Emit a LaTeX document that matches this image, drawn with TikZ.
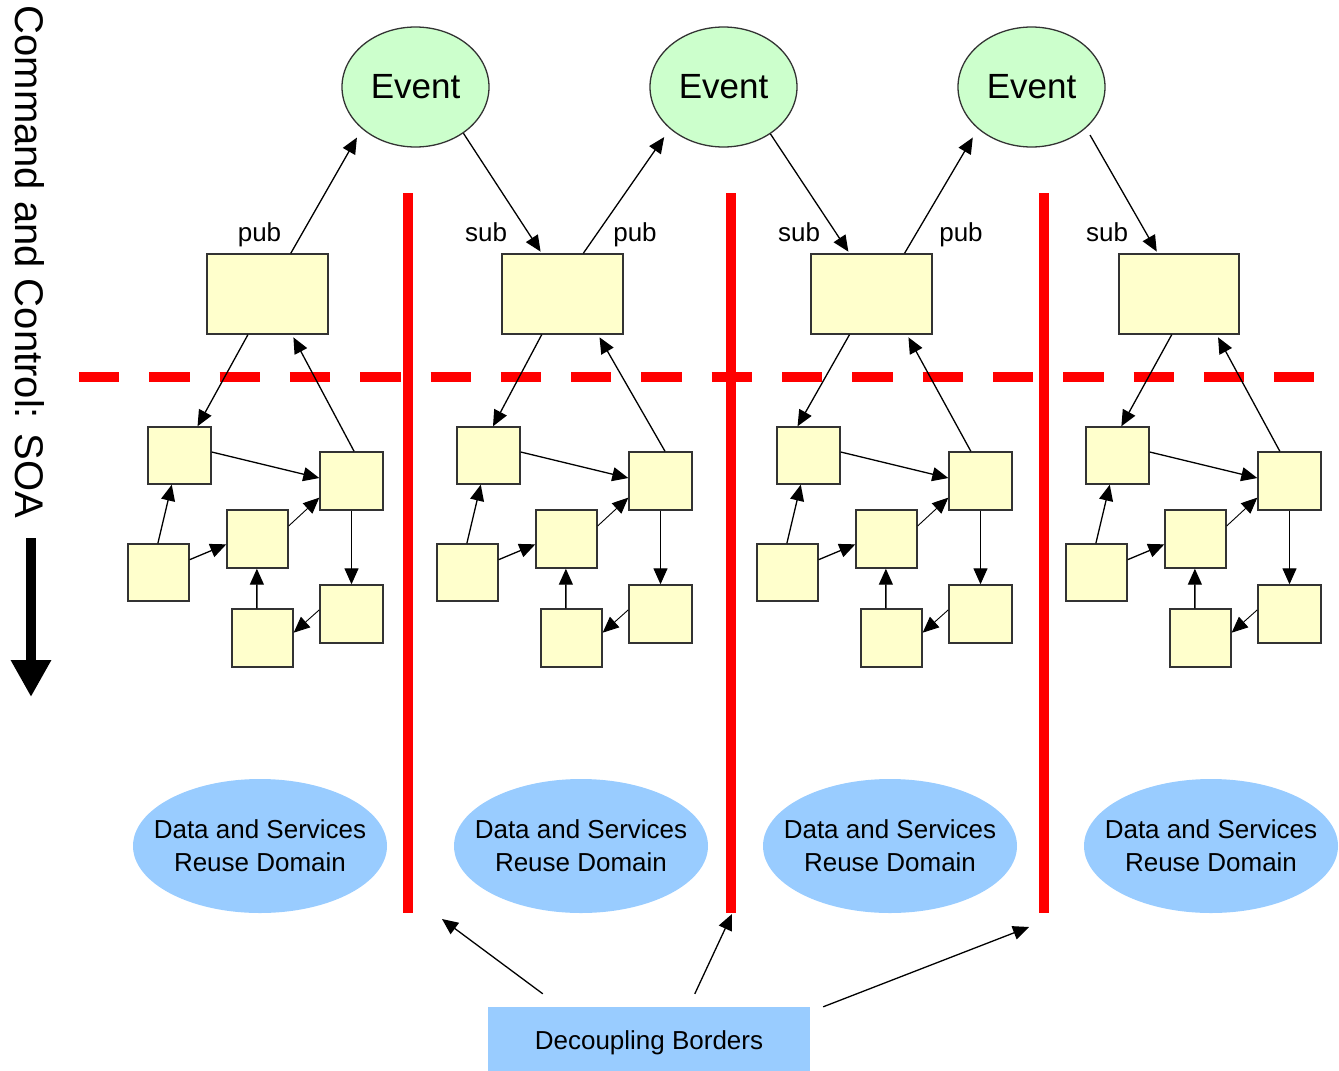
\documentclass[tikz,border=0pt]{standalone}
\usepackage{fontspec}
\setmainfont{Liberation Sans}
\usetikzlibrary{arrows.meta,calc,shapes.geometric}

\definecolor{boxfill}{HTML}{FFFFCC}
\definecolor{eventfill}{HTML}{CCFFCC}
\definecolor{domainfill}{HTML}{99CCFF}
\definecolor{edgegray}{HTML}{333333}

\begin{document}
\begin{tikzpicture}[x=1pt,y=-1pt,
  svc/.style={draw=edgegray,line width=1.4pt,fill=boxfill,inner sep=0pt},
  topbox/.style={svc,minimum width=121pt,minimum height=80pt},
  eventnode/.style={ellipse,draw=edgegray,line width=1.3pt,fill=eventfill,
    minimum width=147pt,minimum height=120pt,inner sep=0pt,
    font=\fontsize{35}{40}\selectfont},
  reusedom/.style={ellipse,fill=domainfill,minimum width=254pt,minimum height=134pt,inner sep=0pt},
  domtext/.style={align=center,inner sep=0pt,font=\fontsize{26}{33}\selectfont},
  conn/.style={-{Triangle[length=16pt,width=14pt]},line width=1.3pt,black},
  thinconn/.style={conn,line width=0.9pt},
  pubsub/.style={anchor=base,inner sep=0pt,font=\fontsize{26}{30}\selectfont},
  redwall/.style={draw=red,line width=10pt},
]
\useasboundingbox (0,0) rectangle (1339,1071);

% vertical caption with its direction arrow
\node[rotate=-90,inner sep=0pt,font=\fontsize{40}{48}\selectfont] (soa) at (30,262) {Command and Control: SOA};
\coordinate (soaTop) at (31,538);
\coordinate (soaTip) at (31,697);
\draw[line width=10pt,-{Triangle[length=37pt,width=38pt]}] (soaTop) -- (soaTip);

% decoupling borders: horizontal dashed line and vertical walls
\draw[redwall,dash pattern=on 40.3pt off 30pt] (79,377) -- (1315,377);
\foreach \x in {408,730.5,1044}
  \draw[redwall] (\x,193) -- (\x,913);

% events
\node[eventnode] (e1) at (415.5,87) {Event};
\node[eventnode] (e2) at (723.5,87) {Event};
\node[eventnode] (e3) at (1031.5,87) {Event};

% published/subscribed service boxes
\node[topbox] (t1) at (267.5,294) {};
\node[topbox] (t2) at (562.5,294) {};
\node[topbox] (t3) at (871.5,294) {};
\node[topbox,minimum width=120pt] (t4) at (1179,294) {};

% service clusters below the dashed line
\foreach \i/\dx/\fs/\fa/\fb/\fu in {1/0/0.34/0.78/0.54/0.70,
                                    2/309/0.33/0.57/0.57/0.79,
                                    3/629/0.32/0.33/0.35/0.79,
                                    4/938/0.44/0.56/0.35/0.81} {
  \node[svc,minimum width=63pt,minimum height=57pt] (a\i) at (179.5+\dx,455.5) {};
  \node[svc,minimum width=63pt,minimum height=58pt] (b\i) at (351.5+\dx,481) {};
  \node[svc,minimum width=61pt,minimum height=58pt] (c\i) at (257.5+\dx,539) {};
  \node[svc,minimum width=61pt,minimum height=57pt] (d\i) at (158.5+\dx,572.5) {};
  \node[svc,minimum width=61pt,minimum height=58pt] (f\i) at (262.5+\dx,638) {};
  \node[svc,minimum width=63pt,minimum height=58pt] (g\i) at (351.5+\dx,614) {};
  \draw[conn] ($(t\i.south west)!\fs!(t\i.south east)$) -- ($(a\i.north west)!\fa!(a\i.north east)$);
  \draw[conn,shorten >=3pt] ($(b\i.north west)!\fb!(b\i.north east)$) -- ($(t\i.south west)!\fu!(t\i.south east)$);
  \draw[conn] ($(a\i.north east)!0.44!(a\i.south east)$) -- ($(b\i.north west)!0.45!(b\i.south west)$);
  \draw[conn] ($(d\i.north west)!0.49!(d\i.north east)$) -- ($(a\i.south west)!0.38!(a\i.south east)$);
  \draw[conn] ($(d\i.north east)!0.28!(d\i.south east)$) -- ($(c\i.north west)!0.59!(c\i.south west)$);
  \draw[thinconn] ($(c\i.north east)!0.28!(c\i.south east)$) -- ($(b\i.north west)!0.78!(b\i.south west)$);
  \draw[conn] (b\i.south) -- (g\i.north);
  \draw[thinconn] ($(g\i.north west)!0.43!(g\i.south west)$) -- ($(f\i.north east)!0.41!(f\i.south east)$);
  \draw[conn] ($(f\i.north west)!0.41!(f\i.north east)$) -- ($(c\i.south west)!0.49!(c\i.south east)$);
}

% publish / subscribe links
\draw[conn,shorten >=10pt] ($(t1.north west)!0.69!(t1.north east)$) -- (e1.218);
\draw[conn,shorten >=2pt] (e1.-44) -- ($(t2.north west)!0.33!(t2.north east)$);
\draw[conn,shorten >=10pt] ($(t2.north west)!0.67!(t2.north east)$) -- (e2.218);
\draw[conn,shorten >=2pt] (e2.-45) -- ($(t3.north west)!0.32!(t3.north east)$);
\draw[conn,shorten >=10pt] ($(t3.north west)!0.77!(t3.north east)$) -- (e3.218);
\draw[conn,shorten <=8pt,shorten >=2pt] (e3.-37) -- ($(t4.north west)!0.325!(t4.north east)$);

\node[pubsub] (p1) at (259.5,241) {pub};
\node[pubsub] (s2) at (486,241) {sub};
\node[pubsub] (p2) at (635,241) {pub};
\node[pubsub] (s3) at (799,241) {sub};
\node[pubsub] (p3) at (961,241) {pub};
\node[pubsub] (s4) at (1107,241) {sub};

% reuse domains
\foreach \i/\x in {1/260,2/581,3/890,4/1211} {
  \node[reusedom] (rd\i) at (\x,846) {};
  \node[domtext] (rt\i) at (rd\i) {Data and Services\\Reuse Domain};
}

% legend box pointing at the walls
\node[fill=domainfill,minimum width=322pt,minimum height=72pt,inner sep=0pt,
      font=\fontsize{26}{30}\selectfont] (dec) at (649,1043) {Decoupling Borders};
\coordinate (gapA) at (442,919);
\coordinate (gapB) at (732,914);
\coordinate (gapC) at (1029,927);
\draw[conn] ([xshift=55pt,yshift=13pt]dec.north west) -- (gapA);
\draw[conn] ([xshift=207pt,yshift=13pt]dec.north west) -- (gapB);
\draw[conn] ([xshift=13pt]dec.north east) -- (gapC);
\end{tikzpicture}
\end{document}
